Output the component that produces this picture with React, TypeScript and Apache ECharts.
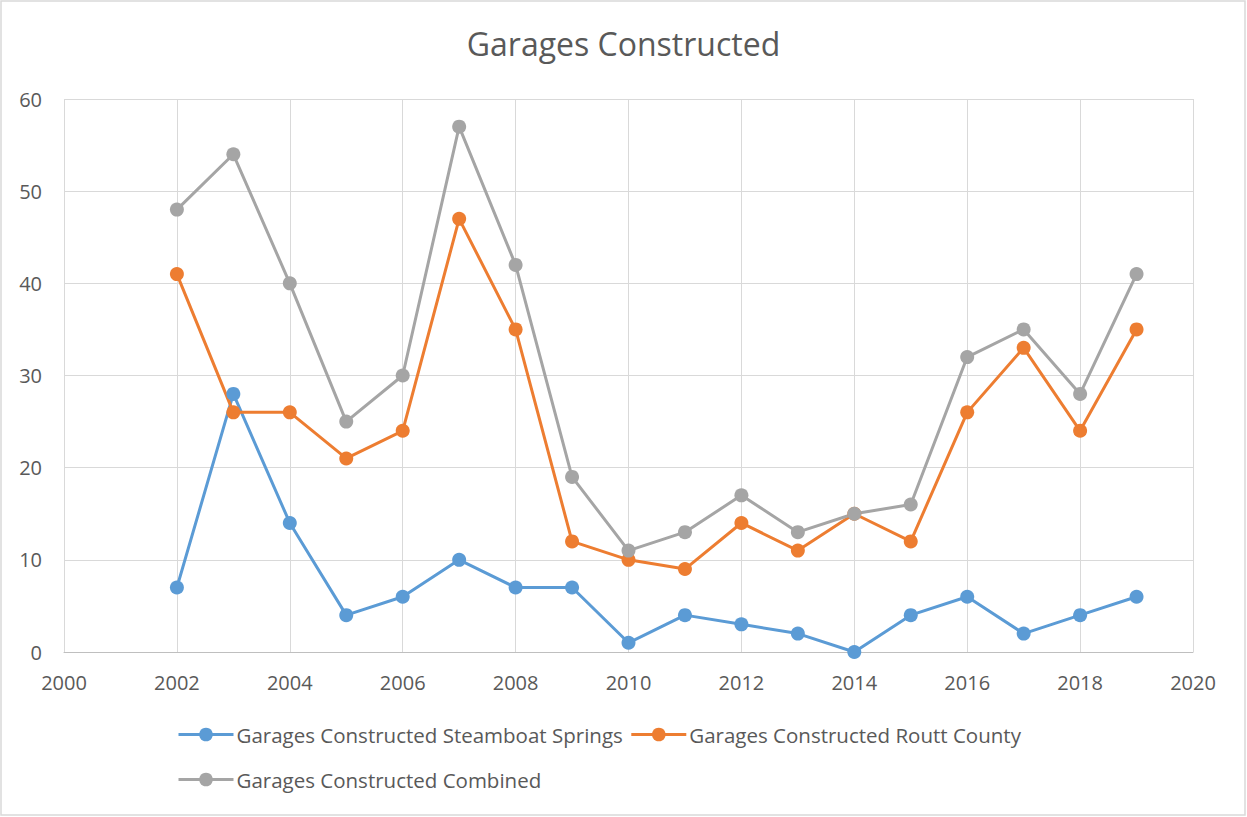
import React, { useEffect, useRef } from "react";
import * as echarts from "echarts";

const years = [2002, 2003, 2004, 2005, 2006, 2007, 2008, 2009, 2010, 2011, 2012, 2013, 2014, 2015, 2016, 2017, 2018, 2019];
const steamboat = [7, 28, 14, 4, 6, 10, 7, 7, 1, 4, 3, 2, 0, 4, 6, 2, 4, 6];
const routt = [41, 26, 26, 21, 24, 47, 35, 12, 10, 9, 14, 11, 15, 12, 26, 33, 24, 35];
const combined = [48, 54, 40, 25, 30, 57, 42, 19, 11, 13, 17, 13, 15, 16, 32, 35, 28, 41];
const seriesNames = [
  "Garages Constructed Steamboat Springs",
  "Garages Constructed Routt County",
  "Garages Constructed Combined",
];
const colors = ["#5b9bd5", "#ed7d31", "#a5a5a5"];

const FONT = "Open Sans";

export default function App() {
  const ref = useRef<HTMLDivElement>(null);
  useEffect(() => {
    document.body.style.margin = "0";
    const chart = echarts.init(ref.current!, null, { renderer: "svg" });
    const pair = (arr: number[]) => years.map((y, i) => [y, arr[i]]);
    const mkSeries = (name: string, arr: number[], color: string) => ({
      name,
      type: "line",
      data: pair(arr),
      symbol: "circle",
      symbolSize: 14,
      lineStyle: { color, width: 3 },
      itemStyle: { color },
    });
    const legendBase = {
      left: 177,
      padding: 0,
      itemWidth: 55,
      itemHeight: 17,
      itemGap: 7,
      lineStyle: { width: 3 },
      textStyle: { fontFamily: FONT, fontSize: 20.5, color: "#595959", padding: [0, 0, 0, -2] },
    };
    chart.setOption({
      animation: false,
      backgroundColor: "#ffffff",
      title: {
        text: "Garages Constructed",
        left: "center",
        top: 22,
        textStyle: { fontFamily: FONT, fontSize: 32, fontWeight: "normal", color: "#595959" },
      },
      legend: [
        { ...legendBase, top: 724, data: [seriesNames[0], seriesNames[1]] },
        { ...legendBase, top: 769, data: [seriesNames[2]] },
      ],
      grid: { left: 64, right: 54, top: 99, bottom: 165, containLabel: false },
      xAxis: {
        type: "value",
        min: 2000,
        max: 2020,
        interval: 2,
        axisLine: { show: true, lineStyle: { color: "#bfbfbf", width: 1 } },
        axisTick: { show: false },
        splitLine: { show: true, lineStyle: { color: "#d9d9d9", width: 1 } },
        axisLabel: {
          fontFamily: FONT,
          fontSize: 20,
          color: "#595959",
          margin: 20,
          showMinLabel: true,
          showMaxLabel: true,
          formatter: (v: number) => String(v),
        },
      },
      yAxis: {
        type: "value",
        min: 0,
        max: 60,
        interval: 10,
        axisLine: { show: false },
        axisTick: { show: false },
        splitLine: { show: true, lineStyle: { color: "#d9d9d9", width: 1 } },
        axisLabel: { fontFamily: FONT, fontSize: 20, color: "#595959", margin: 22 },
      },
      graphic: [
        {
          type: "rect",
          shape: { x: 1, y: 1, width: 1244, height: 814 },
          style: { fill: "none", stroke: "#d9d9d9", lineWidth: 1.5 },
          silent: true,
          z: -1,
        },
      ],
      series: [
        mkSeries(seriesNames[0], steamboat, colors[0]),
        mkSeries(seriesNames[1], routt, colors[1]),
        mkSeries(seriesNames[2], combined, colors[2]),
      ],
    });
    return () => chart.dispose();
  }, []);
  return <div ref={ref} style={{ width: 1247, height: 817 }} />;
}
